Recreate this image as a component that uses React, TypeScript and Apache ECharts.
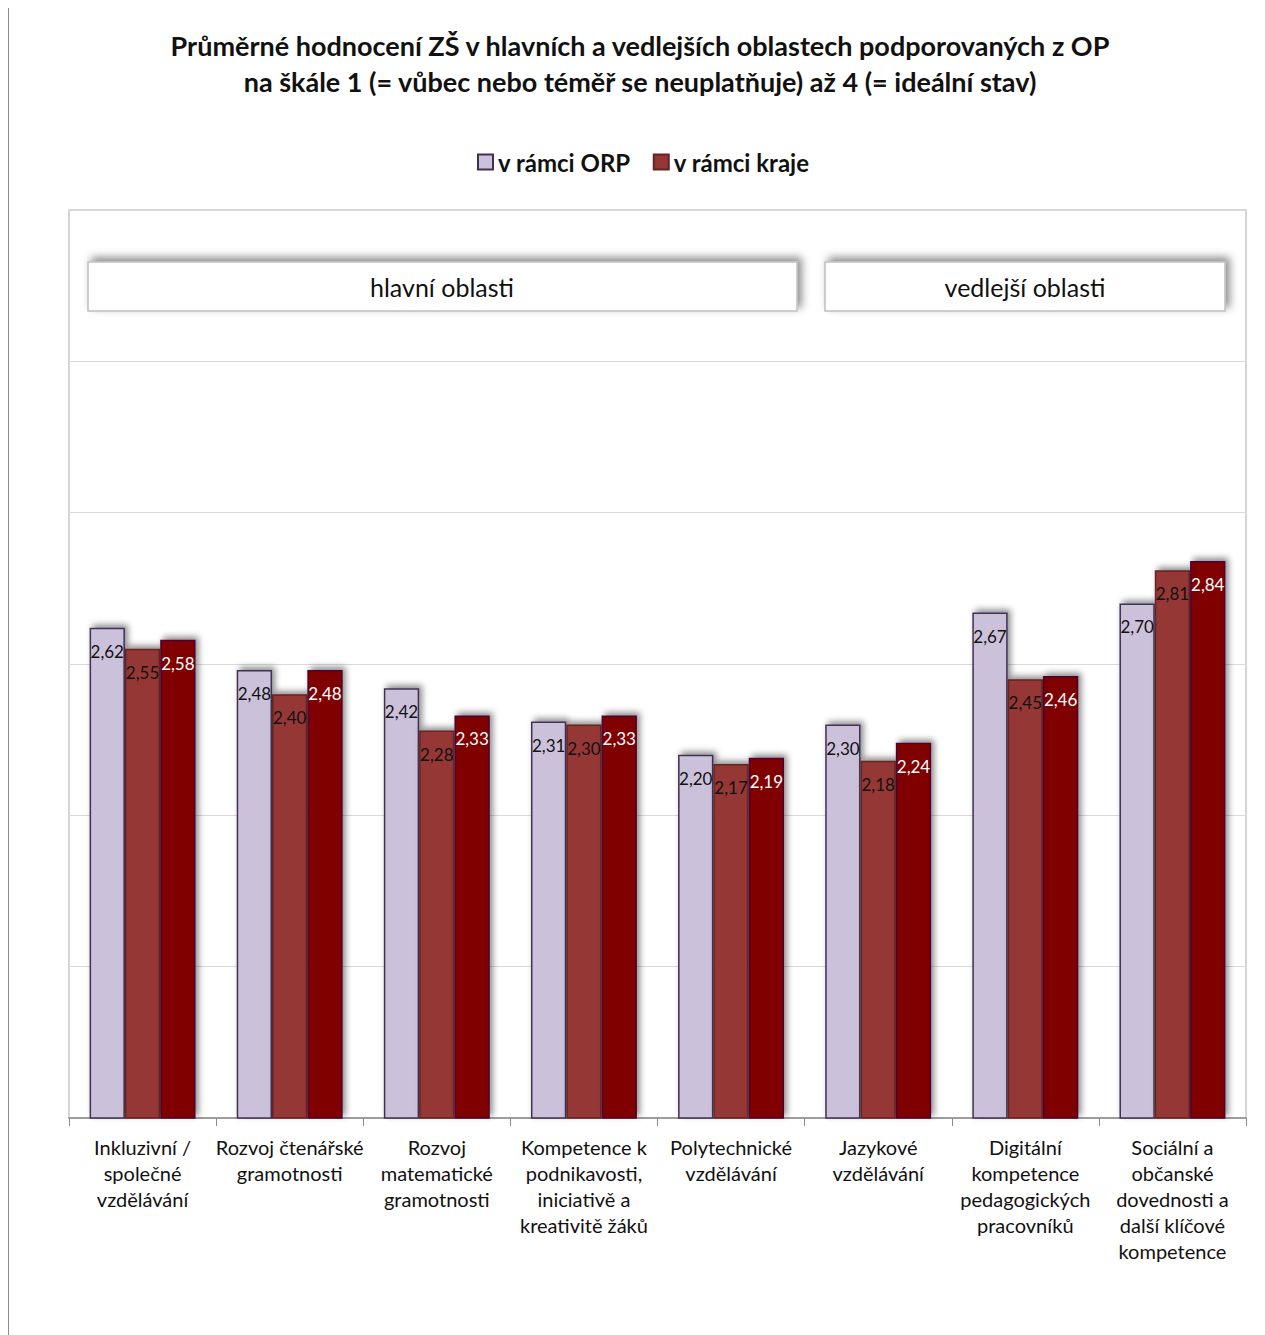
import React, { useEffect, useRef } from "react";
import * as echarts from "echarts";

const categories = [
  "Inkluzivní /\nspolečné\nvzdělávání",
  "Rozvoj čtenářské\ngramotnosti",
  "Rozvoj\nmatematické\ngramotnosti",
  "Kompetence k\npodnikavosti,\niniciativě a\nkreativitě žáků",
  "Polytechnické\nvzdělávání",
  "Jazykové\nvzdělávání",
  "Digitální\nkompetence\npedagogických\npracovníků",
  "Sociální a\nobčanské\ndovednosti a\ndalší klíčové\nkompetence",
];
const orpValues = [2.62, 2.48, 2.42, 2.31, 2.2, 2.3, 2.67, 2.7];
const krajValues = [2.55, 2.4, 2.28, 2.3, 2.17, 2.18, 2.45, 2.81];
const thirdValues = [2.58, 2.48, 2.33, 2.33, 2.19, 2.24, 2.46, 2.84];
const titleLines = [
  "Průměrné hodnocení ZŠ v hlavních a vedlejších oblastech podporovaných z OP",
  "na škále 1 (= vůbec nebo téměř se neuplatňuje) až 4 (= ideální stav)",
];
const groupLabels = ["hlavní oblasti", "vedlejší oblasti"];

const FONT = "Lato, 'Open Sans', sans-serif";

export default function App() {
  const ref = useRef<HTMLDivElement>(null);
  useEffect(() => {
    if (!ref.current) return;
    const chart = echarts.init(ref.current, null, { renderer: "svg" });
    const fmt = (p: any) => Number(p.value).toFixed(2).replace(".", ",");
    const shadow = {
      shadowBlur: 6,
      shadowColor: "rgba(0,0,0,0.45)",
      shadowOffsetX: 3,
      shadowOffsetY: -3,
    };
    const mkSeries = (name: string, data: number[], color: string, border: string, labelColor: string) => ({
      name,
      type: "bar",
      data,
      barGap: "0%",
      barCategoryGap: "28%",
      itemStyle: { color, borderColor: border, borderWidth: 1.5, ...shadow },
      label: {
        show: true,
        position: "insideTop",
        distance: 15,
        formatter: fmt,
        fontFamily: FONT,
        fontSize: 17,
        color: labelColor,
      },
    });
    const boxStyle = {
      fill: "#ffffff",
      stroke: "#bfbfbf",
      lineWidth: 1.5,
      shadowBlur: 8,
      shadowColor: "rgba(0,0,0,0.45)",
      shadowOffsetX: 4,
      shadowOffsetY: -4,
    };
    chart.setOption({
      animation: false,
      backgroundColor: "#ffffff",
      textStyle: { fontFamily: FONT },
      legend: {
        data: ["v rámci ORP", "v rámci kraje"],
        left: 472,
        top: 145,
        itemWidth: 15,
        itemHeight: 15,
        itemGap: 22,
        icon: "rect",
        textStyle: { fontSize: 24, fontWeight: "bold", color: "#111", fontFamily: FONT },
      },
      grid: {
        left: 69,
        right: 19,
        top: 210,
        bottom: 217,
        show: true,
        borderColor: "#c8c8c8",
        borderWidth: 1.5,
      },
      xAxis: {
        type: "category",
        data: categories,
        axisLine: { lineStyle: { color: "#8a8a8a", width: 1.5 } },
        axisTick: { show: true, length: 8, lineStyle: { color: "#8a8a8a" } },
        axisLabel: {
          interval: 0,
          fontSize: 20,
          lineHeight: 26,
          color: "#111",
          margin: 16,
          fontFamily: FONT,
        },
      },
      yAxis: {
        type: "value",
        min: 1,
        max: 4,
        interval: 0.5,
        axisLabel: { show: false },
        axisLine: { show: false },
        axisTick: { show: false },
        splitLine: { lineStyle: { color: "#d9d9d9", width: 1 } },
      },
      series: [
        mkSeries("v rámci ORP", orpValues, "#ccc1da", "#403152", "#111"),
        mkSeries("v rámci kraje", krajValues, "#953735", "#632523", "#111"),
        mkSeries("průměr", thirdValues, "#800000", "#4d0030", "#ffffff"),
      ],
      graphic: [
        {
          type: "line",
          shape: { x1: 8, y1: 6, x2: 8, y2: 1335 },
          style: { stroke: "#8c8c8c", lineWidth: 2 },
        },
        {
          type: "line",
          shape: { x1: 8, y1: 6.5, x2: 1265, y2: 6.5 },
          style: { stroke: "#8c8c8c", lineWidth: 2 },
        },
        {
          type: "text",
          x: 640,
          y: 27,
          style: {
            text: titleLines.join("\n"),
            textAlign: "center",
            fontSize: 27,
            fontWeight: "bold",
            lineHeight: 36,
            fill: "#111",
            fontFamily: FONT,
          },
        },
        {
          type: "rect",
          shape: { x: 88, y: 262, width: 709, height: 49 },
          style: boxStyle,
        },
        {
          type: "text",
          x: 442,
          y: 287,
          style: {
            text: groupLabels[0],
            textAlign: "center",
            textVerticalAlign: "middle",
            fontSize: 25,
            fill: "#111",
            fontFamily: FONT,
          },
        },
        {
          type: "rect",
          shape: { x: 825, y: 262, width: 400, height: 49 },
          style: boxStyle,
        },
        {
          type: "text",
          x: 1025,
          y: 287,
          style: {
            text: groupLabels[1],
            textAlign: "center",
            textVerticalAlign: "middle",
            fontSize: 25,
            fill: "#111",
            fontFamily: FONT,
          },
        },
      ],
    });
    return () => chart.dispose();
  }, []);
  return (
    <div
      ref={ref}
      style={{ width: 1265, height: 1335, marginTop: -8, marginLeft: -8 }}
    />
  );
}
